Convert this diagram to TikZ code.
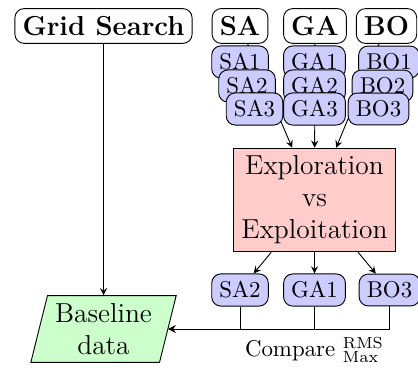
\documentclass[tikz,border=0pt]{standalone}
\usetikzlibrary{shapes.geometric,arrows}
\begin{document}
\begin{tikzpicture}[x=0.437pt, y=-0.437pt, >=stealth,
  topbox/.style={draw, rounded corners, fill=white, font=\large\bfseries},
  algobox/.style={draw, rounded corners, fill=blue!20},
  mixbox/.style={draw, fill=red!20, font=\large, align=center},
  databox/.style={draw, fill=green!20, font=\large, align=center,
    trapezium, trapezium left angle=76, trapezium right angle=104}]
\useasboundingbox (0,0) rectangle (418,367);

% method headers
\node[topbox] (gs) at (103.5,26) {Grid Search};
\node[topbox] (sa) at (240,26) {SA};
\node[topbox] (ga) at (315,26) {GA};
\node[topbox] (bo) at (386.5,26) {BO};

% trade-off box
\node[mixbox] (expl) at (314.5,200) {Exploration\\vs\\Exploitation};

% baseline
\node[databox] (base) at (103.5,329) {Baseline\\data};

% flows into the trade-off box (passing beneath the run stacks)
\draw[->] (sa) -- (expl);
\draw[->] (ga) -- (expl);
\draw[->] (bo) -- (expl);
\draw[->] (gs) -- (base);

% stacked runs of each method
\node[algobox] (sa1) at (240,62) {SA1};
\node[algobox] (sa2) at (247,86) {SA2};
\node[algobox] (sa3) at (254.5,109) {SA3};
\node[algobox] (ga1) at (314.5,62) {GA1};
\node[algobox] (ga2) at (314.5,86) {GA2};
\node[algobox] (ga3) at (314.5,109) {GA3};
\node[algobox] (bo1) at (389,62) {BO1};
\node[algobox] (bo2) at (382.5,86) {BO2};
\node[algobox] (bo3) at (378.5,109) {BO3};

% selected runs
\node[algobox] (sab) at (240,290) {SA2};
\node[algobox] (gab) at (314.5,290) {GA1};
\node[algobox] (bob) at (389.5,290) {BO3};

\draw[->] (expl) -- (sab);
\draw[->] (expl) -- (gab);
\draw[->] (expl) -- (bob);

% comparison against the baseline
\draw[->] (sab) |- (base);
\draw[->] (gab) |- node[below] {Compare $^{\mathrm{RMS}}_{\mathrm{Max}}$} (base);
\draw[->] (bob) |- (base);
\end{tikzpicture}
\end{document}
